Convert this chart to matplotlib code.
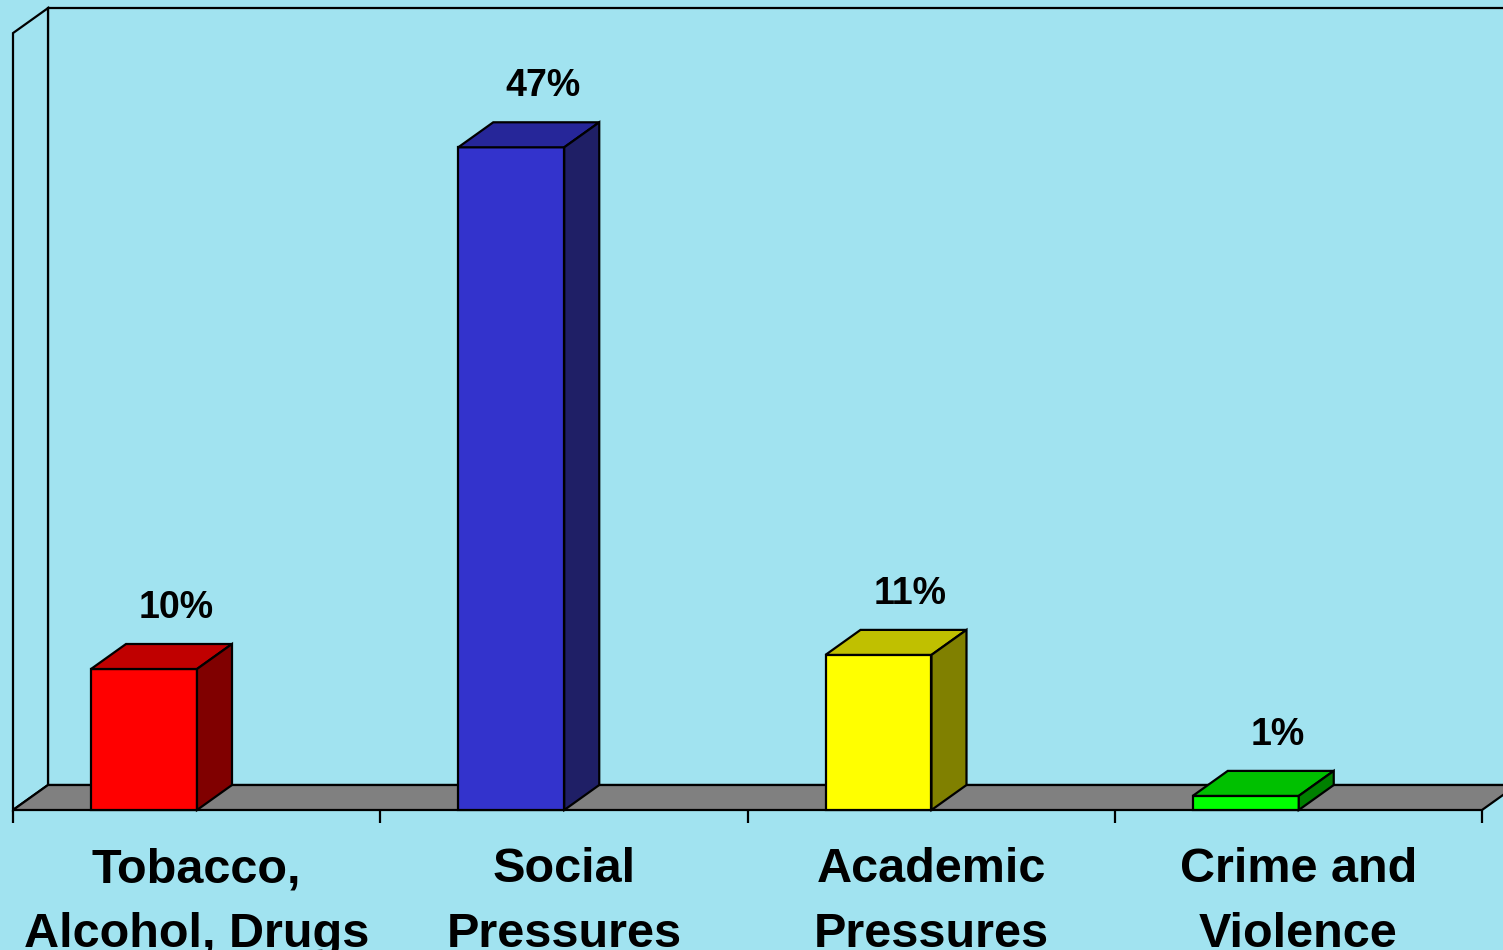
import matplotlib
matplotlib.use("Agg")
import matplotlib.pyplot as plt
from matplotlib.patches import Polygon

categories = [["Tobacco,", "Alcohol, Drugs"], ["Social", "Pressures"],
              ["Academic", "Pressures"], ["Crime and", "Violence"]]
values = [10, 47, 11, 1]
labels = ["10%", "47%", "11%", "1%"]
front_colors = ["#FF0000", "#3333CC", "#FFFF00", "#00FF00"]
top_colors = ["#C00000", "#262699", "#C0C000", "#00C000"]
side_colors = ["#800000", "#1F1F66", "#808000", "#008000"]

BG = "#A1E3F0"
W, H = 1503, 950
PX_X = 367.25      # pixels per category
PX_Y = 14.1        # pixels per percent
X0, Y0 = 13, 810   # pixel position of data origin
DX = 35 / PX_X     # depth offset in data units
DY = 25 / PX_Y
YMAX = 55.1
NCAT = len(values)

fig = plt.figure(figsize=(W / 100, H / 100), dpi=100)
fig.patch.set_facecolor(BG)
ax = fig.add_axes([0, 0, 1, 1])
ax.set_xlim(-X0 / PX_X, (W - X0) / PX_X)
ax.set_ylim((Y0 - H) / PX_Y, Y0 / PX_Y)
ax.axis("off")
ax.set_facecolor(BG)

lw = 1.6
ec = "black"
xr = NCAT
# back wall
ax.add_patch(Polygon([(DX, DY), (DX, YMAX + DY), (xr + DX + 1, YMAX + DY), (xr + DX + 1, DY)],
                     closed=True, facecolor=BG, edgecolor=ec, lw=lw, zorder=1))
# left wall
ax.add_patch(Polygon([(0, 0), (0, YMAX), (DX, YMAX + DY), (DX, DY)],
                     closed=True, facecolor=BG, edgecolor=ec, lw=lw, zorder=2))
# floor
ax.add_patch(Polygon([(0, 0), (xr, 0), (xr + DX, DY), (DX, DY)],
                     closed=True, facecolor="#808080", edgecolor=ec, lw=lw, zorder=3))
# ticks
tick_len = 13 / PX_Y
for i in range(NCAT + 1):
    ax.plot([i, i], [0, -tick_len], color=ec, lw=lw, zorder=3, solid_capstyle="butt")

off = 78 / PX_X
bw = 106 / PX_X
for i, v in enumerate(values):
    x0 = i + off
    x1 = x0 + bw
    ax.add_patch(Polygon([(x0, 0), (x1, 0), (x1, v), (x0, v)], closed=True,
                         facecolor=front_colors[i], edgecolor=ec, lw=lw, zorder=5,
                         joinstyle="miter"))
    ax.add_patch(Polygon([(x0, v), (x1, v), (x1 + DX, v + DY), (x0 + DX, v + DY)], closed=True,
                         facecolor=top_colors[i], edgecolor=ec, lw=lw, zorder=5,
                         joinstyle="miter"))
    ax.add_patch(Polygon([(x1, 0), (x1 + DX, DY), (x1 + DX, v + DY), (x1, v)], closed=True,
                         facecolor=side_colors[i], edgecolor=ec, lw=lw, zorder=5,
                         joinstyle="miter"))
    ax.text((x0 + x1) / 2 + DX - 3 / PX_X, v + DY + 26 / PX_Y, labels[i], ha="center", va="baseline",
            fontsize=27, fontweight="bold", family="Liberation Sans", color="black", zorder=6)

for i, lines in enumerate(categories):
    for j, line in enumerate(lines):
        yb = (Y0 - (882 + 65 * j)) / PX_Y
        ax.text(i + 0.5, yb, line, ha="center", va="baseline", fontsize=35,
                fontweight="bold", family="Liberation Sans", color="black", zorder=6)

fig.savefig("out.png", dpi=100, facecolor=BG)
